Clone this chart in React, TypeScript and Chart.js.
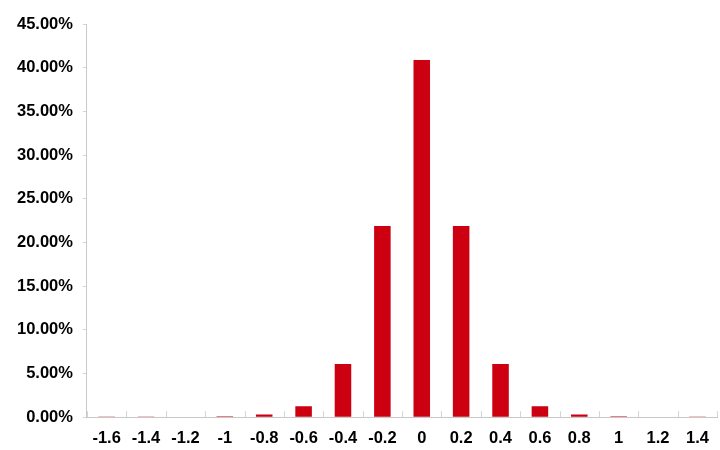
import React, { useEffect, useRef } from "react";
import { Chart, registerables } from "chart.js";

Chart.register(...registerables);

const categories = ["-1.6", "-1.4", "-1.2", "-1", "-0.8", "-0.6", "-0.4", "-0.2", "0", "0.2", "0.4", "0.6", "0.8", "1", "1.2", "1.4"];
const values = [0.0002, 0.0003, 0.0004, 0.0010, 0.0032, 0.0125, 0.0610, 0.2188, 0.4088, 0.2188, 0.0610, 0.0125, 0.0032, 0.0010, 0.0004, 0.0003];

const innerTicks = {
  id: "innerTicks",
  afterDatasetsDraw(chart: any) {
    const { ctx, chartArea } = chart;
    const x = chart.scales.x;
    ctx.save();
    ctx.strokeStyle = "#d4d4d4";
    ctx.lineWidth = 1;
    ctx.beginPath();
    for (let i = 0; i <= categories.length; i++) {
      const px = Math.round(x.getPixelForValue(i - 0.5)) + 0.5;
      ctx.moveTo(px, chartArea.bottom);
      ctx.lineTo(px, chartArea.bottom - 6);
    }
    ctx.stroke();
    ctx.restore();
  },
};

export default function App() {
  const ref = useRef<HTMLCanvasElement>(null);
  useEffect(() => {
    const font = { family: "'Liberation Sans', Arial, sans-serif", size: 16.5, weight: "bold" as const };
    const chart = new Chart(ref.current!, {
      type: "bar",
      data: {
        labels: categories,
        datasets: [
          {
            data: values,
            backgroundColor: "#cc0011",
            barPercentage: 0.42,
            categoryPercentage: 1,
          },
        ],
      },
      plugins: [innerTicks],
      options: {
        animation: false,
        responsive: false,
        maintainAspectRatio: false,
        layout: { padding: { top: 24, right: 2, left: 7, bottom: -9 } },
        plugins: { legend: { display: false }, tooltip: { enabled: false } },
        scales: {
          x: {
            offset: true,
            grid: { offset: true, drawOnChartArea: false, drawTicks: false, color: "#d4d4d4" },
            border: { color: "#c8c8c8" },
            ticks: { color: "#000", font, padding: 11, maxRotation: 0, autoSkip: false },
          },
          y: {
            min: 0,
            max: 0.45,
            grid: { drawOnChartArea: false, drawTicks: true, tickLength: 4, color: "#d4d4d4" },
            border: { color: "#c8c8c8" },
            ticks: {
              stepSize: 0.05,
              color: "#000",
              font,
              padding: 10,
              callback: (v: any) => (Number(v) * 100).toFixed(2) + "%",
            },
          },
        },
      },
    });
    return () => chart.destroy();
  }, []);
  return (
    <div style={{ position: "fixed", left: 0, top: 0, width: 720, height: 450, background: "#fff" }}>
      <canvas ref={ref} width={720} height={450} />
    </div>
  );
}
